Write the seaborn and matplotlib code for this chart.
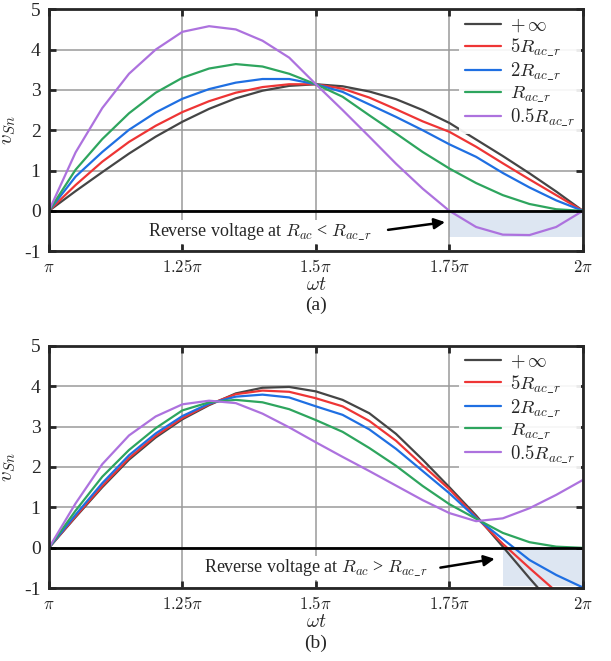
import numpy as np
import pandas as pd
import matplotlib
matplotlib.use("Agg")
import matplotlib.pyplot as plt
import seaborn as sns

# omega*t in units of pi
wt = [1.00, 1.05, 1.10, 1.15, 1.20, 1.25, 1.30, 1.35, 1.40, 1.45, 1.50,
      1.55, 1.60, 1.65, 1.70, 1.75, 1.80, 1.85, 1.90, 1.95, 2.00]

loads = ["$+\\,\\infty$", "$5R_{ac\\_r}$", "$2R_{ac\\_r}$", "$R_{ac\\_r}$", "$0.5R_{ac\\_r}$"]
colors = ["#454545", "#ee3535", "#1f6fe2", "#2ea55e", "#ad72de"]

# (a) values
inf_a = [0, 0.49, 0.96, 1.42, 1.84, 2.21, 2.53, 2.79, 2.98, 3.10, 3.14,
         3.09, 2.96, 2.77, 2.50, 2.18, 1.77, 1.36, 0.93, 0.48, 0]
r5_a = [0, 0.64, 1.22, 1.71, 2.11, 2.45, 2.72, 2.93, 3.07, 3.14, 3.14,
        3.03, 2.81, 2.52, 2.22, 1.96, 1.59, 1.18, 0.78, 0.39, 0]
r2_a = [0, 0.85, 1.46, 2.01, 2.44, 2.78, 3.02, 3.18, 3.27, 3.27, 3.14,
        2.95, 2.64, 2.33, 2.00, 1.65, 1.34, 0.94, 0.58, 0.26, 0]
r1_a = [0, 1.02, 1.78, 2.42, 2.93, 3.30, 3.53, 3.64, 3.58, 3.40, 3.14,
        2.83, 2.37, 1.92, 1.46, 1.05, 0.69, 0.39, 0.17, 0.04, 0]
r05_a = [0, 1.45, 2.55, 3.40, 4.00, 4.44, 4.58, 4.50, 4.22, 3.80, 3.14,
         2.50, 1.84, 1.17, 0.55, 0, -0.40, -0.59, -0.60, -0.40, 0]

# (b) values
inf_b = [0, 0.76, 1.50, 2.18, 2.73, 3.18, 3.53, 3.82, 3.96, 3.98, 3.87,
         3.66, 3.33, 2.82, 2.18, 1.50, 0.80, 0.03, -0.75, -1.50, -2.20]
r5_b = [0, 0.78, 1.53, 2.22, 2.77, 3.21, 3.55, 3.80, 3.89, 3.86, 3.70,
        3.50, 3.14, 2.65, 2.04, 1.45, 0.76, 0.10, -0.50, -1.08, -1.60]
r2_b = [0, 0.82, 1.60, 2.29, 2.83, 3.26, 3.57, 3.74, 3.79, 3.72, 3.50,
        3.29, 2.93, 2.45, 1.90, 1.35, 0.74, 0.22, -0.30, -0.67, -0.98]
r1_b = [0, 0.92, 1.76, 2.42, 2.96, 3.40, 3.60, 3.66, 3.60, 3.43, 3.16,
        2.87, 2.47, 2.03, 1.53, 1.08, 0.72, 0.37, 0.14, 0.03, 0]
r05_b = [0, 1.10, 2.07, 2.78, 3.25, 3.55, 3.64, 3.58, 3.32, 2.98, 2.61,
         2.25, 1.90, 1.54, 1.18, 0.86, 0.66, 0.73, 0.98, 1.31, 1.68]

xticks = [1.0, 1.25, 1.5, 1.75, 2.0]
xticklabels = ["$\\pi$", "$1.25\\pi$", "$1.5\\pi$", "$1.75\\pi$", "$2\\pi$"]
yticks = [-1, 0, 1, 2, 3, 4, 5]

# shaded reverse-voltage zones: (x0, x1, ymin)
shade_a = (1.75, 2.0, -0.65)
shade_b = (1.85, 2.0, -0.94)


def make_df(series):
    rows = []
    for name, vals in zip(loads, series):
        for x, v in zip(wt, vals):
            rows.append({"wt": x, "v": v, "load": name})
    return pd.DataFrame(rows)


df_a = make_df([inf_a, r5_a, r2_a, r1_a, r05_a])
df_b = make_df([inf_b, r5_b, r2_b, r1_b, r05_b])

sns.set_style("ticks")
plt.rcParams["font.family"] = ["Liberation Serif", "DejaVu Serif"]
plt.rcParams["mathtext.fontset"] = "cm"
plt.rcParams["axes.unicode_minus"] = False

fig = plt.figure(figsize=(6.11, 6.61), dpi=100)
ax_a = fig.add_axes([0.080, 0.620, 0.874, 0.366])
ax_b = fig.add_axes([0.080, 0.110, 0.874, 0.367])


def style_panel(ax, df, shade, note, note_xy, arrow_from, arrow_to, tag):
    ax.fill_between([shade[0], shade[1]], shade[2], 0, color="#dde6f2", zorder=0, lw=0)
    sns.lineplot(data=df, x="wt", y="v", hue="load", palette=colors, ax=ax,
                 linewidth=1.6, sort=False, zorder=3)
    ax.axhline(0, color="black", lw=2, zorder=4)
    ax.set_xlim(1.0, 2.0)
    ax.set_ylim(-1, 5)
    ax.set_xticks(xticks)
    ax.set_xticklabels(xticklabels, fontsize=12)
    ax.set_yticks(yticks)
    ax.set_yticklabels([str(t) for t in yticks], fontsize=14)
    ax.grid(True, color="#9a9a9a", lw=1.1, zorder=1)
    ax.set_axisbelow(True)
    ax.tick_params(direction="in", length=5, width=2, top=True, right=True, pad=6)
    for s in ax.spines.values():
        s.set_linewidth(2)
        s.set_zorder(5)
    ax.set_xlabel("$\\omega t$", fontsize=14, labelpad=1)
    ax.set_ylabel("$v_{Sn}$", fontsize=15)
    ax.yaxis.set_label_coords(-0.057, 0.5)
    handles, labels = ax.get_legend_handles_labels()
    leg = ax.legend(handles, labels, loc="upper right", fontsize=13.5,
                    handlelength=1.9, handletextpad=0.5, labelspacing=0.12,
                    borderaxespad=0.1, borderpad=0.3,
                    frameon=True, framealpha=0.9, edgecolor="none", fancybox=False)
    leg.get_frame().set_facecolor("white")
    ax.text(note_xy[0], note_xy[1], note, fontsize=13, va="center", ha="left",
            zorder=6, bbox=dict(facecolor="white", edgecolor="none", pad=1))
    ax.annotate("", xy=arrow_to, xytext=arrow_from, zorder=6,
                arrowprops=dict(arrowstyle="-|>", color="black", lw=1.8,
                                mutation_scale=16))
    ax.text(0.5, -0.225, tag, transform=ax.transAxes, ha="center", va="center",
            fontsize=14)


style_panel(ax_a, df_a, shade_a, "Reverse voltage at $R_{ac}$ < $R_{ac\\_r}$",
            (1.185, -0.52), (1.63, -0.48), (1.747, -0.27), "(a)")
style_panel(ax_b, df_b, shade_b, "Reverse voltage at $R_{ac}$ > $R_{ac\\_r}$",
            (1.29, -0.50), (1.728, -0.50), (1.84, -0.26), "(b)")

fig.savefig("out.png", dpi=100)
